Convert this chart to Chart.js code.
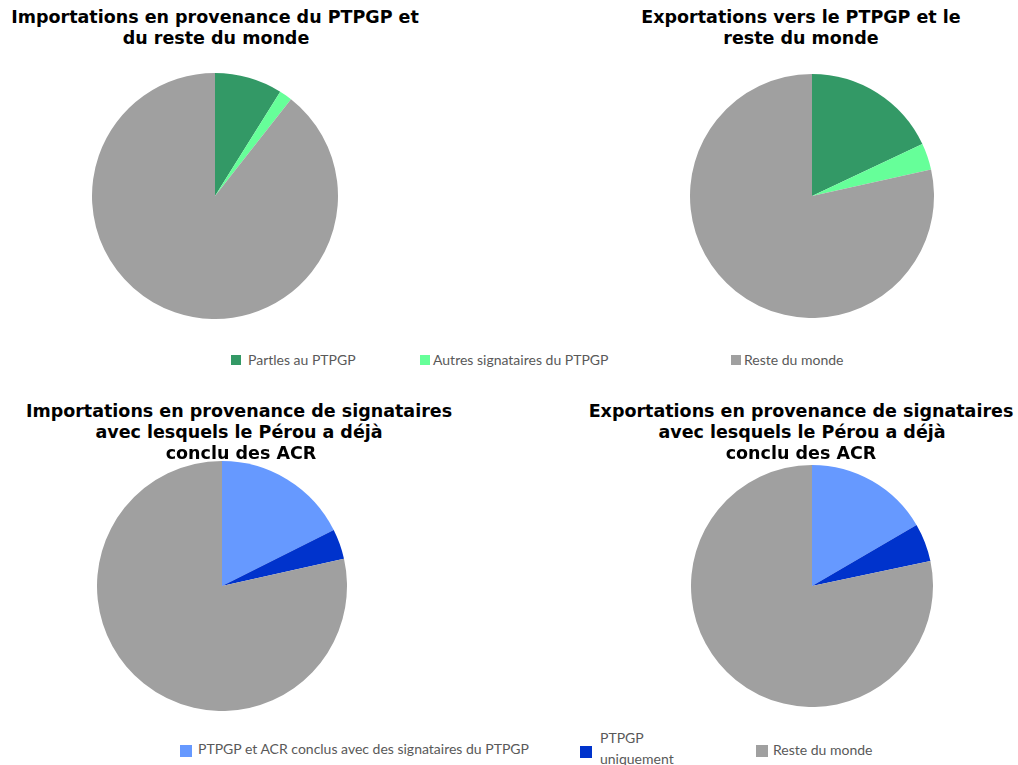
<!DOCTYPE html>
<html>
<head>
<meta charset="utf-8">
<script src="https://cdn.jsdelivr.net/npm/chart.js@4"></script>
<style>
  html, body { margin: 0; padding: 0; background: #ffffff; }
  body { width: 1018px; height: 765px; position: relative; overflow: hidden; }
  canvas.pie { position: absolute; }
  .tline { position: absolute; font-family: "DejaVu Sans", Verdana, sans-serif; font-weight: bold;
           font-size: 17.5px; line-height: 21px; color: #000; white-space: nowrap; transform: translateX(-50%); }
  .leg { position: absolute; font-family: Lato, "Open Sans", sans-serif; font-size: 14px; color: #595959; white-space: nowrap; }
  .box { position: absolute; }
</style>
</head>
<body>
<canvas id="c1" class="pie"></canvas>
<canvas id="c2" class="pie"></canvas>
<canvas id="c3" class="pie"></canvas>
<canvas id="c4" class="pie"></canvas>
<script>
// ---- data ----
const topCategories = ["Partles au PTPGP", "Autres signataires du PTPGP", "Reste du monde"];
const bottomCategories = ["PTPGP et ACR conclus avec des signataires du PTPGP", "PTPGP uniquement", "Reste du monde"];
const importsPTPGP = [8.9, 1.7, 89.4];
const exportsPTPGP = [18.0, 3.5, 78.5];
const importsACR = [17.6, 3.9, 78.5];
const exportsACR = [16.6, 5.1, 78.3];
const titleImportsPTPGP = ["Importations en provenance du PTPGP et", "du reste du monde"];
const titleExportsPTPGP = ["Exportations vers le PTPGP et le", "reste du monde"];
const titleImportsACR = ["Importations en provenance de signataires", "avec lesquels le Pérou a déjà", "conclu des ACR"];
const titleExportsACR = ["Exportations en provenance de signataires", "avec lesquels le Pérou a déjà", "conclu des ACR"];

// ---- styles ----
const topColors = ["#339966", "#66ff99", "#a0a0a0"];
const bottomColors = ["#6699ff", "#0033cc", "#a0a0a0"];

function makePie(id, left, top, size, labels, values, colors) {
  const cv = document.getElementById(id);
  cv.width = size; cv.height = size;
  cv.style.left = left + "px"; cv.style.top = top + "px";
  new Chart(cv, {
    type: "pie",
    data: { labels: labels, datasets: [{ data: values, backgroundColor: colors, borderWidth: 0 }] },
    options: {
      responsive: false, animation: false, devicePixelRatio: 1,
      layout: { padding: 0 },
      plugins: { legend: { display: false }, title: { display: false }, tooltip: { enabled: false } }
    }
  });
}
makePie("c1", 92, 73, 246, topCategories, importsPTPGP, topColors);
makePie("c2", 690, 74, 244, topCategories, exportsPTPGP, topColors);
makePie("c3", 97, 461, 250, bottomCategories, importsACR, bottomColors);
makePie("c4", 691, 465, 242, bottomCategories, exportsACR, bottomColors);

function addTitle(lines, centers, top) {
  lines.forEach((t, i) => {
    const d = document.createElement("div");
    d.className = "tline";
    d.textContent = t;
    d.style.left = centers[i] + "px";
    d.style.top = (top + i * 20.8) + "px";
    document.body.appendChild(d);
  });
}
addTitle(titleImportsPTPGP, [215, 216], 7);
addTitle(titleExportsPTPGP, [801, 801], 7);
addTitle(titleImportsACR, [239, 239, 241], 401);
addTitle(titleExportsACR, [801, 802, 801], 401);

function addLegendItem(color, text, bx, by, bs, tx, ty, width) {
  const b = document.createElement("div");
  b.className = "box";
  b.style.left = bx + "px"; b.style.top = by + "px";
  b.style.width = bs + "px"; b.style.height = bs + "px";
  b.style.background = color;
  document.body.appendChild(b);
  const t = document.createElement("div");
  t.className = "leg";
  t.textContent = text;
  t.style.left = tx + "px"; t.style.top = ty + "px";
  if (width) { t.style.whiteSpace = "normal"; t.style.width = width + "px"; t.style.lineHeight = "21px"; }
  document.body.appendChild(t);
}
// top legend
addLegendItem(topColors[0], topCategories[0], 231, 355, 10, 248, 351);
addLegendItem(topColors[1], topCategories[1], 420, 355, 10, 433, 351);
addLegendItem(topColors[2], topCategories[2], 731, 355, 10, 744, 351);
// bottom legend
addLegendItem(bottomColors[0], bottomCategories[0], 180, 745, 12, 198, 740);
addLegendItem(bottomColors[1], bottomCategories[1], 580, 746, 12, 600, 727, 75);
addLegendItem(bottomColors[2], bottomCategories[2], 756, 745, 12, 773, 741);
</script>
</body>
</html>
